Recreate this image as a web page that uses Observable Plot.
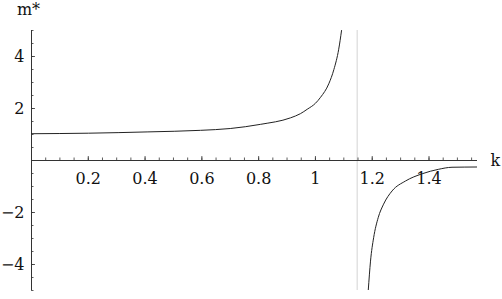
<!DOCTYPE html>
<html>
<head>
<meta charset="utf-8">
<script src="https://cdn.jsdelivr.net/npm/d3@7"></script>
<script src="https://cdn.jsdelivr.net/npm/@observablehq/plot@0.6"></script>
<style>
  html, body { margin: 0; padding: 0; background: #fff; }
</style>
</head>
<body>
<div id="chart"></div>
<script>
// Left branch (below the pole)
const kLeft = [0, 0.2, 0.41, 0.595, 0.70, 0.806, 0.912, 0.947, 0.971, 1.0, 1.018, 1.047, 1.065, 1.082, 1.092];
const mLeft = [1.03, 1.05, 1.10, 1.16, 1.23, 1.39, 1.64, 1.8, 1.97, 2.2, 2.43, 2.95, 3.5, 4.28, 5.0];
// Right branch (above the pole)
const kRight = [1.186, 1.194, 1.205, 1.221, 1.24, 1.27, 1.317, 1.376, 1.433, 1.481, 1.571];
const mRight = [-5.0, -3.87, -2.97, -2.2, -1.68, -1.17, -0.79, -0.51, -0.34, -0.26, -0.25];
// Pole position
const poleK = [1.147];

const xTicks = [0.2, 0.4, 0.6, 0.8, 1.0, 1.2, 1.4];
const xTickLabels = ["0.2", "0.4", "0.6", "0.8", "1", "1.2", "1.4"];
const yTicks = [4, 2, -2, -4];
const yTickLabels = ["4", "2", "\u22122", "\u22124"];
const xLabel = "k";
const yLabel = "m*";

const xDomain = [0, Math.PI / 2];
const yDomain = [-5, 5];

const left = kLeft.map((k, i) => ({k, m: mLeft[i]}));
const right = kRight.map((k, i) => ({k, m: mRight[i]}));
const xMinor = d3.range(1, 32).map(i => i * 0.05).filter(v => v <= xDomain[1]);
const yMinor = d3.range(-10, 11).map(i => i * 0.5).filter(v => v !== 0);

const W = 502, H = 299;
const mL = 31, mR = 25, mT = 30, mB = 9;
const pxPerX = (W - mL - mR) / (xDomain[1] - xDomain[0]);
const pxPerY = (H - mT - mB) / (yDomain[1] - yDomain[0]);
const major = 4, minor = 2.5;
const axisColor = "#333";
const FF = "DejaVu Serif";
const FS = 16;

const chart = Plot.plot({
  width: W,
  height: H,
  marginLeft: mL,
  marginRight: mR,
  marginTop: mT,
  marginBottom: mB,
  x: {domain: xDomain, axis: null},
  y: {domain: yDomain, axis: null},
  style: {fontFamily: FF, background: "white", overflow: "visible"},
  marks: [
    Plot.ruleX(poleK, {stroke: "#d4d4d4", strokeWidth: 1}),
    // axes
    Plot.ruleY([0], {x1: xDomain[0], x2: xDomain[1], stroke: axisColor, strokeWidth: 1}),
    Plot.ruleX([0], {y1: yDomain[0], y2: yDomain[1], stroke: axisColor, strokeWidth: 1}),
    // x ticks
    Plot.ruleX(xMinor, {y1: 0, y2: minor / pxPerY, stroke: axisColor, strokeWidth: 0.8}),
    Plot.ruleX(xTicks, {y1: 0, y2: major / pxPerY, stroke: axisColor, strokeWidth: 0.8}),
    // y ticks
    Plot.ruleY(yMinor, {x1: 0, x2: minor / pxPerX, stroke: axisColor, strokeWidth: 0.8}),
    Plot.ruleY(yTicks, {x1: 0, x2: major / pxPerX, stroke: axisColor, strokeWidth: 0.8}),
    // tick labels
    Plot.text(xTicks, {x: d => d, y: 0, text: (d, i) => xTickLabels[i], dy: 18, fontSize: FS, fontFamily: FF, fill: "#111"}),
    Plot.text(yTicks, {x: 0, y: d => d, text: (d, i) => yTickLabels[i], dx: -7, textAnchor: "end", fontSize: FS, fontFamily: FF, fill: "#111"}),
    // axis labels
    Plot.text([xLabel], {x: xDomain[1], y: 0, text: d => d, dx: 13, textAnchor: "start", fontSize: FS, fontFamily: FF, fill: "#111"}),
    Plot.text([yLabel], {x: 0, y: yDomain[1], text: d => d, dx: -3, dy: -21, textAnchor: "middle", fontSize: FS, fontFamily: FF, fill: "#111"}),
    // curve
    Plot.line(left, {x: "k", y: "m", stroke: "#222", strokeWidth: 1, curve: "monotone-x", clip: true}),
    Plot.line(right, {x: "k", y: "m", stroke: "#222", strokeWidth: 1, curve: "monotone-x", clip: true})
  ]
});
document.getElementById("chart").appendChild(chart);
</script>
</body>
</html>
